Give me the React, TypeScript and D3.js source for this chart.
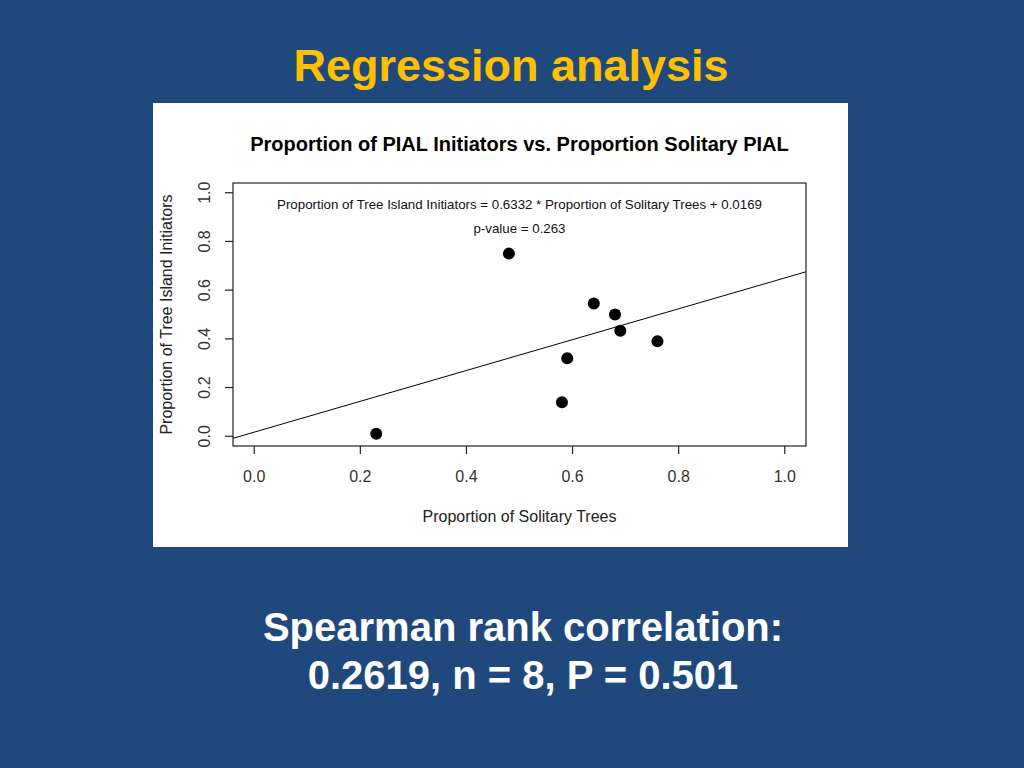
import React, { useEffect } from "react";
import * as d3 from "d3";

const solitary = [0.23, 0.48, 0.64, 0.68, 0.69, 0.76, 0.59, 0.58];
const initiators = [0.01, 0.75, 0.545, 0.5, 0.433, 0.39, 0.32, 0.14];
const xTicks = [0, 0.2, 0.4, 0.6, 0.8, 1.0];
const yTicks = [0, 0.2, 0.4, 0.6, 0.8, 1.0];
const slope = 0.6332;
const intercept = 0.0169;

const slideTitle = "Regression analysis";
const plotTitle = "Proportion of PIAL Initiators vs. Proportion Solitary PIAL";
const eqText = "Proportion of Tree Island Initiators = 0.6332 * Proportion of Solitary Trees + 0.0169";
const pText = "p-value = 0.263";
const xLabel = "Proportion of Solitary Trees";
const yLabel = "Proportion of Tree Island Initiators";
const footer = ["Spearman rank correlation:", "0.2619, n = 8, P = 0.501"];

export default function App() {
  useEffect(() => {
    document.body.style.margin = "0";
  }, []);

  const W = 1024, H = 768;
  const box = { left: 233, right: 806, top: 183, bottom: 446 };
  const x = d3.scaleLinear().domain([-0.04, 1.04]).range([box.left, box.right]);
  const y = d3.scaleLinear().domain([-0.04, 1.04]).range([box.bottom, box.top]);
  const fmt = d3.format(".1f");
  const cx = (box.left + box.right) / 2;
  const line = d3.line<number>().x((d) => x(d)).y((d) => y(slope * d + intercept));
  const font = "Liberation Sans, Arial, sans-serif";

  return (
    <svg width={W} height={H} style={{ position: "absolute", left: 0, top: 0, display: "block" }} fontFamily={font}>
      <rect x={0} y={0} width={W} height={H} fill="#1F497D" />
      <text x={511} y={81} textAnchor="middle" fontSize={45} fontWeight="bold" fill="#FFC000">{slideTitle}</text>

      <rect x={153} y={103} width={695} height={444} fill="#ffffff" />
      <text x={cx} y={151} textAnchor="middle" fontSize={20} fontWeight="bold" fill="#000">{plotTitle}</text>

      <defs>
        <clipPath id="plotclip">
          <rect x={box.left} y={box.top} width={box.right - box.left} height={box.bottom - box.top} />
        </clipPath>
      </defs>
      <path d={line([-0.04, 1.04]) || ""} stroke="#000" strokeWidth={1} fill="none" clipPath="url(#plotclip)" />

      {solitary.map((s, i) => (
        <circle key={i} cx={x(s)} cy={y(initiators[i])} r={6} fill="#000" />
      ))}

      <rect x={box.left} y={box.top} width={box.right - box.left} height={box.bottom - box.top} fill="none" stroke="#222" strokeWidth={1.2} />

      {xTicks.map((t) => (
        <g key={"x" + t}>
          <line x1={x(t)} x2={x(t)} y1={box.bottom} y2={box.bottom + 8} stroke="#222" strokeWidth={1.2} />
          <text x={x(t)} y={482} textAnchor="middle" fontSize={16} fill="#333">{fmt(t)}</text>
        </g>
      ))}
      {yTicks.map((t) => (
        <g key={"y" + t}>
          <line x1={box.left} x2={box.left - 8} y1={y(t)} y2={y(t)} stroke="#222" strokeWidth={1.2} />
          <text transform={`translate(210,${y(t)}) rotate(-90)`} textAnchor="middle" fontSize={16} fill="#333">{fmt(t)}</text>
        </g>
      ))}

      <text x={cx} y={209} textAnchor="middle" fontSize={13.3} fill="#111">{eqText}</text>
      <text x={cx} y={233} textAnchor="middle" fontSize={13.3} fill="#111">{pText}</text>

      <text x={cx} y={522} textAnchor="middle" fontSize={16} fill="#222">{xLabel}</text>
      <text transform={`translate(172,${(box.top + box.bottom) / 2}) rotate(-90)`} textAnchor="middle" fontSize={16} fill="#222">{yLabel}</text>

      <text x={523} y={641} textAnchor="middle" fontSize={40} fontWeight="bold" fill="#ffffff">{footer[0]}</text>
      <text x={523} y={689} textAnchor="middle" fontSize={40} fontWeight="bold" fill="#ffffff">{footer[1]}</text>
    </svg>
  );
}
